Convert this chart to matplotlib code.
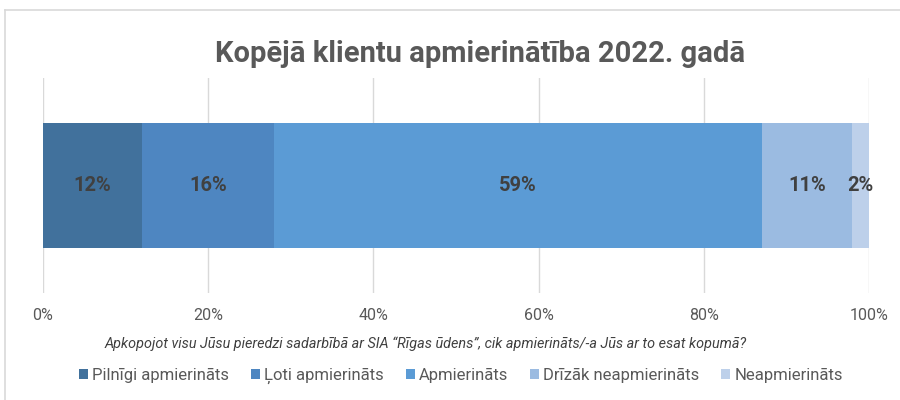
import matplotlib
matplotlib.use("Agg")
import matplotlib.pyplot as plt
from matplotlib.lines import Line2D
from matplotlib.patches import Patch

plt.rcParams['font.family'] = ['Roboto', 'DejaVu Sans']

categories = ["Pilnīgi apmierināts", "Ļoti apmierināts", "Apmierināts",
              "Drīzāk neapmierināts", "Neapmierināts"]
values = [12, 16, 59, 11, 2]
colors = ["#41719c", "#4e86c1", "#5b9bd5", "#9bbbe1", "#bdd0ea"]
ticks = [0, 20, 40, 60, 80, 100]
tick_labels = ["0%", "20%", "40%", "60%", "80%", "100%"]
title = "Kopējā klientu apmierinātība 2022. gadā"
xlabel = "Apkopojot visu Jūsu pieredzi sadarbībā ar SIA \u201cRīgas ūdens\u201d, cik apmierināts/-a Jūs ar to esat kopumā?"

fig = plt.figure(figsize=(9, 4), dpi=100)
ax = fig.add_axes([43/900, 1-293/400, (869-43)/900, (293-78)/400])

left = 0
for cat, v, c in zip(categories, values, colors):
    ax.barh(0, v, left=left, height=124/215, color=c, label=cat, zorder=3)
    ax.text(left + v/2, 0, f"{v}%", ha="center", va="center", fontsize=14.5,
            fontweight="bold", color="#404040", zorder=4)
    left += v

ax.set_xlim(0, 100)
ax.set_ylim(-0.5, 0.5)
ax.set_xticks(ticks)
ax.set_xticklabels(tick_labels, fontsize=11.5, color="#595959")
ax.set_yticks([])
ax.tick_params(axis="x", length=0, pad=11)
ax.grid(axis="x", color="#d9d9d9", linewidth=1, zorder=0)
for s in ax.spines.values():
    s.set_visible(False)

fig.text(480.5/900, 1-62/400, title, ha="center", va="baseline",
         fontsize=21, fontweight="bold", color="#595959")
fig.text(426/900, 1-344/400, xlabel, ha="center", va="center",
         fontsize=10.4, style="italic", color="#404040")

handles = [Patch(facecolor=c, label=cat) for cat, c in zip(categories, colors)]
leg = fig.legend(handles=handles, loc="center", bbox_to_anchor=(461/900, 1-376/400),
                 ncol=5, frameon=False, fontsize=12, handlelength=0.55, handleheight=0.55,
                 handletextpad=0.25, columnspacing=1.3, labelcolor="#595959")

# outer border
fig.add_artist(Line2D([5/900, 1], [1-10/400, 1-10/400], color="#d9d9d9", lw=1.2))
fig.add_artist(Line2D([5/900, 5/900], [0, 1-10/400], color="#d9d9d9", lw=1.2))

fig.savefig("out.png", dpi=100)
